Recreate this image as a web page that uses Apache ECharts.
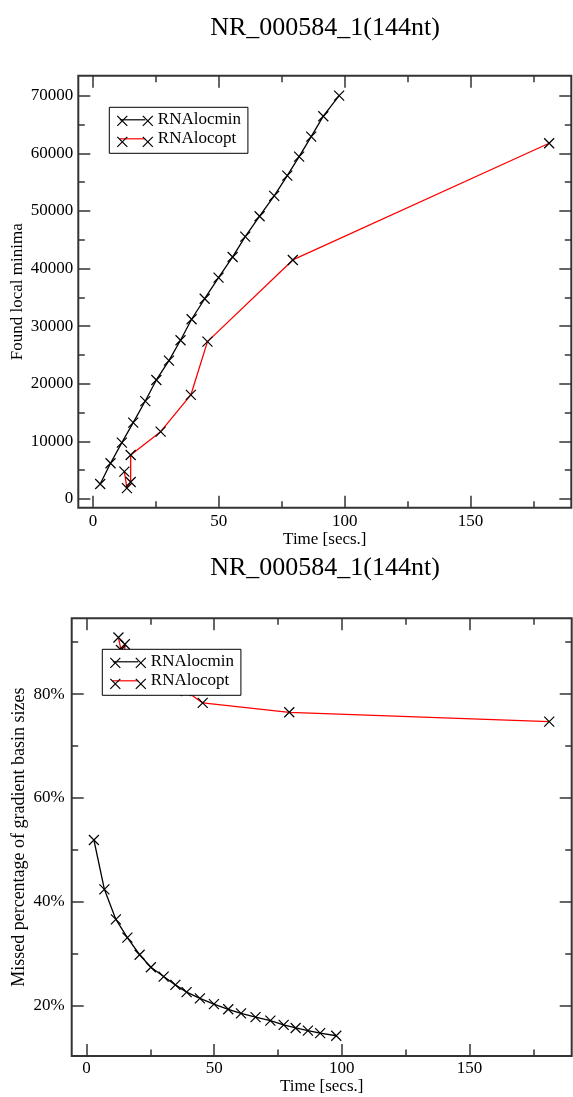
<!DOCTYPE html>
<html>
<head>
<meta charset="utf-8">
<script src="https://cdn.jsdelivr.net/npm/echarts@6/dist/echarts.min.js"></script>
<style>
html, body { margin: 0; padding: 0; background: #fff; }
#chart { width: 573px; height: 1097px; }
</style>
</head>
<body>
<div id="chart"></div>
<script>
// Panel title and series names
const titleText = 'NR_000584_1(144nt)';
const seriesNames = ['RNAlocmin', 'RNAlocopt'];

// RNAlocmin: run time [s], found local minima, missed basin percentage
const locminTime = [2.9, 7.0, 11.5, 16.0, 20.8, 25.2, 30.2, 34.8, 39.2, 44.4, 49.9, 55.5, 60.5, 66.2, 72.0, 77.2, 81.9, 86.7, 91.5, 97.8];
const locminFound = [2600, 6200, 9780, 13250, 17000, 20660, 24010, 27550, 31200, 34760, 38420, 42010, 45540, 49080, 52600, 56130, 59430, 62900, 66440, 70020];
const locminMissed = [51.9, 42.4, 36.6, 33.1, 29.8, 27.4, 25.6, 24.0, 22.6, 21.4, 20.3, 19.3, 18.5, 17.8, 17.1, 16.3, 15.7, 15.2, 14.7, 14.2];

// RNAlocopt: run time [s], found local minima, missed basin percentage
const locoptTime = [12.5, 13.5, 15.0, 15.0, 26.9, 38.9, 45.5, 79.4, 181.2];
const locoptFound = [4740, 1900, 2950, 7640, 11690, 18060, 27310, 41490, 61750];
const locoptMissed = [90.9, 88.5, 89.6, 87.0, 84.0, 80.6, 78.3, 76.5, 74.7];

// Tick values
const timeTicks = [0, 50, 100, 150];
const timeMinorTicks = [25, 75, 125, 175];
const foundTicks = [0, 10000, 20000, 30000, 40000, 50000, 60000, 70000];
const foundMinorTicks = [5000, 15000, 25000, 35000, 45000, 55000, 65000];
const missedTicks = [20, 40, 60, 80];
const missedMinorTicks = [30, 50, 70, 90];

const FONT = 'Liberation Serif';
const FRAME = '#333';
const X_MARK = 'path://M0,0L10,10M0,10L10,0';

function pairs(xs, ys) { return xs.map((x, i) => [x, ys[i]]); }

// One axis layer: ticks drawn inside the frame, optional labels
function axis(gridIndex, position, min, max, ticks, len, labelOpt, extra) {
  return Object.assign({
    type: 'value', gridIndex, position, min, max,
    axisLine: { show: false, onZero: false },
    splitLine: { show: false },
    axisTick: { show: true, inside: true, length: len, customValues: ticks,
      lineStyle: { color: FRAME, width: 1.5 } },
    axisLabel: labelOpt ? Object.assign({ show: true, customValues: ticks,
      fontFamily: FONT, fontSize: 17, color: '#000',
      formatter: v => String(v) }, labelOpt) : { show: false }
  }, extra || {});
}

function xAxes(g, min, max, margin, nameGap) {
  return [
    axis(g, 'bottom', min, max, timeTicks, 12, { margin },
      { name: 'Time [secs.]', nameLocation: 'middle', nameGap, nameMoveOverlap: false,
        nameTextStyle: { fontFamily: FONT, fontSize: 17, color: '#000' } }),
    axis(g, 'bottom', min, max, timeMinorTicks, 6.5, null),
    axis(g, 'top', min, max, timeTicks, 12, null),
    axis(g, 'top', min, max, timeMinorTicks, 6.5, null)
  ];
}

function yAxes(g, min, max, ticks, minor, labelOpt, name, nameGap, nameSize) {
  return [
    axis(g, 'left', min, max, ticks, 12, labelOpt,
      { name, nameLocation: 'middle', nameGap, nameRotate: 90, nameMoveOverlap: false,
        nameTextStyle: { fontFamily: FONT, fontSize: nameSize, color: '#000' } }),
    axis(g, 'left', min, max, minor, 6.5, null),
    axis(g, 'right', min, max, ticks, 12, null),
    axis(g, 'right', min, max, minor, 6.5, null)
  ];
}

function series(name, xi, yi, data, color) {
  return {
    type: 'line', name, xAxisIndex: xi, yAxisIndex: yi, data,
    symbol: X_MARK, symbolSize: 10,
    itemStyle: { color: 'none', borderColor: '#000', borderWidth: 1.2 },
    lineStyle: { color, width: 1.3 },
    z: 3
  };
}

// Legend is built as two stacked layers: line segments with text, then the X marks
const LEG_LINE = 'path://M0,0M38,14M5,6.4L30.5,6.4L30.5,7.6L5,7.6Z';
const LEG_MARKS = 'path://M0,0M38,14M0,2L10,12M0,12L10,2M25.5,2L35.5,12M25.5,12L35.5,2';

function legends(left, top) {
  const base = {
    left, top, orient: 'vertical', itemWidth: 38, itemHeight: 14, itemGap: 2,
    padding: [4, 7, 6, 5.5], selectedMode: false,
    textStyle: { fontFamily: FONT, fontSize: 17, color: '#000' }
  };
  return [
    Object.assign({}, base, {
      backgroundColor: '#fff', borderColor: '#000', borderWidth: 1, z: 10,
      data: [
        { name: seriesNames[0], icon: LEG_LINE, itemStyle: { color: '#000', borderWidth: 0 } },
        { name: seriesNames[1], icon: LEG_LINE, itemStyle: { color: '#ff0000', borderWidth: 0 } }
      ]
    }),
    Object.assign({}, base, {
      z: 11, formatter: () => '',
      data: seriesNames.map(n => ({ name: n, icon: LEG_MARKS,
        itemStyle: { color: 'none', borderColor: '#000', borderWidth: 1.2 } }))
    })
  ];
}

const chart = echarts.init(document.getElementById('chart'), null, { renderer: 'canvas' });

const T_MIN = -5.8, T_MAX = 190;

chart.setOption({
  animation: false,
  backgroundColor: '#fff',
  title: [
    { text: titleText, left: 325, top: 15, textAlign: 'center', padding: 0,
      textStyle: { fontFamily: FONT, fontSize: 26, fontWeight: 'normal', color: '#000' } },
    { text: titleText, left: 325, top: 555, textAlign: 'center', padding: 0,
      textStyle: { fontFamily: FONT, fontSize: 26, fontWeight: 'normal', color: '#000' } }
  ],
  grid: [
    { left: 78.3, top: 75.7, width: 493, height: 432, show: true, outerBoundsMode: 'none',
      containLabel: false, borderColor: FRAME, borderWidth: 2, backgroundColor: 'transparent' },
    { left: 71.7, top: 618.3, width: 500, height: 437.7, show: true, outerBoundsMode: 'none',
      containLabel: false, borderColor: FRAME, borderWidth: 2, backgroundColor: 'transparent' }
  ],
  xAxis: [].concat(
    xAxes(0, T_MIN, T_MAX, 5, 23),
    xAxes(1, T_MIN, T_MAX, 4, 22)
  ),
  yAxis: [].concat(
    yAxes(0, -1510, 73470, foundTicks, foundMinorTicks, { margin: 5 },
      'Found local minima', 52, 17),
    yAxes(1, 10.3, 94.6, missedTicks, missedMinorTicks,
      { margin: 7, formatter: '{value}%' },
      'Missed percentage of gradient basin sizes', 43, 18)
  ),
  legend: [].concat(legends(109.3, 107.3), legends(102.3, 649.3)),
  series: [
    series(seriesNames[0], 0, 0, pairs(locminTime, locminFound), '#000'),
    series(seriesNames[1], 0, 0, pairs(locoptTime, locoptFound), '#ff0000'),
    series(seriesNames[0], 4, 4, pairs(locminTime, locminMissed), '#000'),
    series(seriesNames[1], 4, 4, pairs(locoptTime, locoptMissed), '#ff0000')
  ]
});
</script>
</body>
</html>
